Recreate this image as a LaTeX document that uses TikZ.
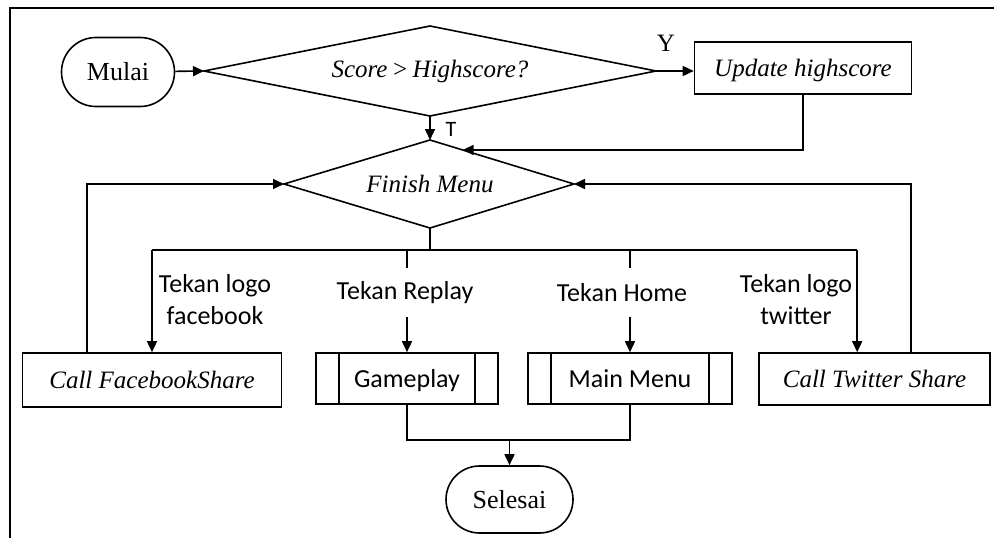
\documentclass[tikz,border=0pt]{standalone}
\usepackage{fontspec}
\setmainfont{Liberation Serif}
\newfontfamily\califont{Carlito}
\usetikzlibrary{shapes.misc,arrows.meta,calc}
\tikzset{
  base/.style={draw, line width=1.6pt, inner sep=0pt, text height=20pt, text depth=3pt},
  term/.style={base, rounded rectangle, font=\fontsize{26}{30}\selectfont},
  dectext/.style={inner sep=0pt, font=\fontsize{25}{30}\selectfont\itshape},
  proc/.style={base, rectangle, font=\fontsize{25}{30}\selectfont\itshape},
  predproc/.style={base, rectangle, font=\califont\fontsize{26}{30}\selectfont,
    path picture={\draw[line width=1.6pt]
      ([xshift=23pt]path picture bounding box.north west) -- ([xshift=23pt]path picture bounding box.south west)
      ([xshift=-23pt]path picture bounding box.north east) -- ([xshift=-23pt]path picture bounding box.south east);}},
  lbl/.style={font=\califont\fontsize{26}{32}\selectfont, align=center, inner sep=0pt},
  conn/.style={line width=1.6pt},
  arr/.style={conn, -{Triangle[length=11pt,width=10pt]}}
}
\begin{document}
\begin{tikzpicture}[x=1pt,y=-1pt]
\useasboundingbox (0,0) rectangle (994,538);
\draw[line width=2pt] (10,538) -- (10,8) -- (994,8);

\node[term, minimum width=113pt, minimum height=69pt] (mulai) at (118,72) {Mulai};
% decision 1
\node[dectext] (d1) at (430,71) {Score\,>\,Highscore?};
\coordinate (d1n) at (430,26);
\coordinate (d1s) at (430,116);
\coordinate (d1w) at (204,71);
\coordinate (d1e) at (656,71);
\draw[conn, line join=miter] (d1n) -- (d1e) -- (d1s) -- (d1w) -- cycle;
\node[proc, minimum width=217pt, minimum height=52pt] (upd) at (803,68) {Update highscore};
% decision 2
\node[dectext] (fm) at (430,184) {Finish Menu};
\coordinate (fmn) at (430,140);
\coordinate (fms) at (430,228);
\coordinate (fmw) at (284,184);
\coordinate (fme) at (574,184);
\draw[conn, line join=miter] (fmn) -- (fme) -- (fms) -- (fmw) -- cycle;

\node[proc, minimum width=259pt, minimum height=54pt] (fb) at (152,380) {Call FacebookShare};
\node[predproc, minimum width=182pt, minimum height=51pt] (gp) at (407,378.5) {Gameplay};
\node[predproc, minimum width=204pt, minimum height=51pt] (mm) at (630,378.5) {Main Menu};
\node[proc, minimum width=231pt, minimum height=52pt] (tw) at (874.5,379) {Call Twitter Share};
\node[term, minimum width=127pt, minimum height=67pt] (sel) at (509.5,499.5) {Selesai};

\node[font=\fontsize{25}{30}\selectfont, inner sep=0pt] (ly) at (666,43) {Y};
\node[font=\califont\fontsize{22}{26}\selectfont, inner sep=0pt] (lt) at (451,129) {T};
\node[lbl] (lfb) at (215,300) {Tekan logo\\facebook};
\node[lbl, minimum height=49pt] (lrep) at (405,292.5) {Tekan Replay};
\node[lbl, minimum height=49pt] (lhome) at (622,292.5) {Tekan Home};
\node[lbl] (ltw) at (796,300) {Tekan logo\\twitter};

\coordinate (bus) at (0,250);
\coordinate (join) at (0,440);
\coordinate (fmhit) at ($(fmn)!0.227!(fme)$);
\coordinate (fbup) at ($(fb.north west)+(65,0)$);
\coordinate (twup) at ($(tw.north west)+(153,0)$);
\coordinate (twin) at ($(tw.north west)+(99,0)$);

\draw[arr] (mulai) -- (d1w);
\draw[arr] (d1e) -- (d1e -| upd.west);
\draw[arr] (d1s) -- (fmn);
\draw[arr] (upd.south) |- (fmhit);
\draw[arr] (fbup) |- (fmw);
\draw[arr] (twup) |- (fme);

\draw[conn] (fms) -- (fms |- bus);
\draw[conn] (fb.north |- bus) -- (twin |- bus);
\draw[arr] (fb.north |- bus) -- (fb.north);
\draw[arr] (twin |- bus) -- (twin);
\draw[conn] (gp.north |- bus) -- (gp.north |- lrep.north);
\draw[arr] (gp.north |- lrep.south) -- (gp.north);
\draw[conn] (mm.north |- bus) -- (mm.north |- lhome.north);
\draw[arr] (mm.north |- lhome.south) -- (mm.north);

\draw[conn] (gp.south) -- (gp.south |- join) -- (mm.south |- join) -- (mm.south);
\draw[arr] (sel.north |- join) -- (sel.north);
\end{tikzpicture}
\end{document}
